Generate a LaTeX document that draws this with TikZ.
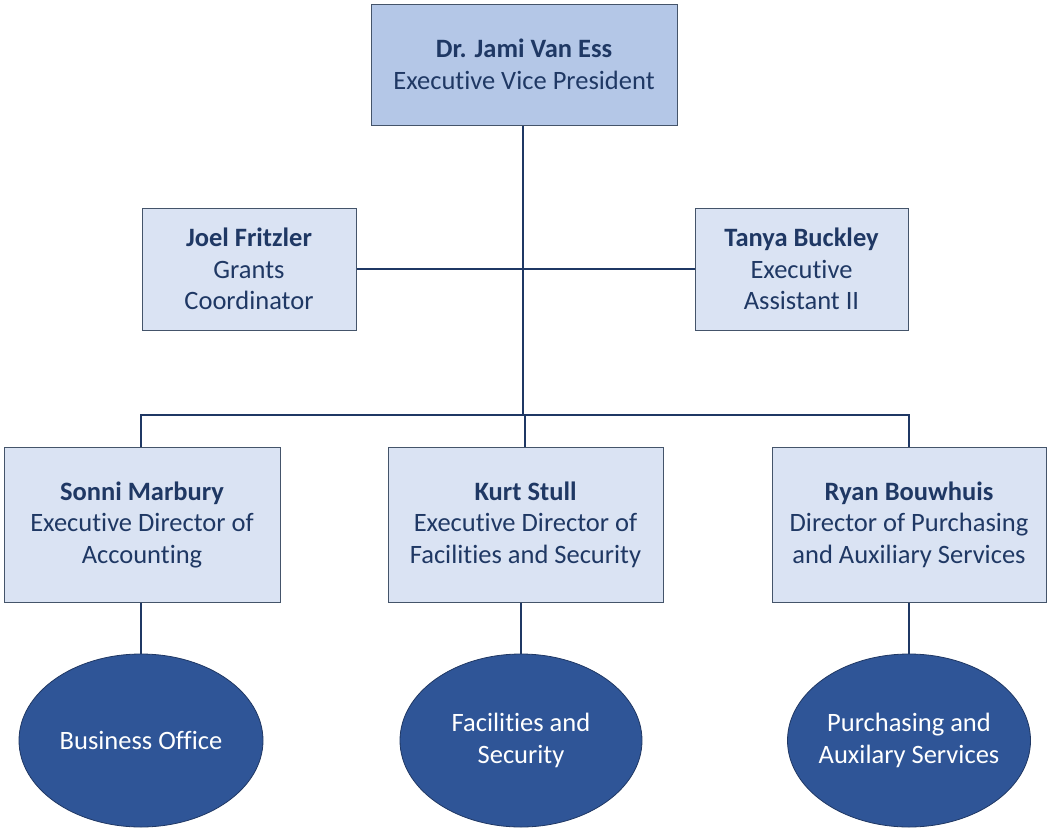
\documentclass[tikz,border=0pt]{standalone}
\usepackage{fontspec}
\setmainfont{Carlito}[Ligatures=NoCommon]
\usetikzlibrary{shapes.geometric}
\definecolor{txt}{HTML}{1F3864}
\definecolor{edge}{HTML}{44546A}
\definecolor{topfill}{HTML}{B4C7E7}
\definecolor{boxfill}{HTML}{DAE3F3}
\definecolor{ovfill}{HTML}{2F5597}
\definecolor{ovedge}{HTML}{203864}
\definecolor{wire}{HTML}{1F3864}
\tikzset{
  box/.style={draw=edge, line width=1pt, fill=boxfill, text=txt, align=center, inner sep=0pt,
    font=\fontsize{26.5}{31.5}\selectfont},
  topbox/.style={box, fill=topfill},
  oval/.style={ellipse, draw=ovedge, line width=0.8pt, fill=ovfill, text=white, align=center, inner sep=-40pt,
    font=\fontsize{26.5}{31.5}\selectfont},
  wire/.style={draw=wire, line width=2pt}
}
\begin{document}
\begin{tikzpicture}[x=1pt,y=-1pt]
\useasboundingbox (0,0) rectangle (1047,830);
\node[topbox, minimum width=306pt, minimum height=121pt] (vp) at (524,64.5) {\textbf{Dr. Jami Van Ess}\\Executive Vice President};
\node[box, minimum width=214pt, minimum height=122pt] (joel) at (249,269) {\textbf{Joel Fritzler}\\Grants\\Coordinator};
\node[box, minimum width=213pt, minimum height=122pt] (tanya) at (801.5,269) {\textbf{Tanya Buckley}\\Executive\\Assistant II};
\node[box, minimum width=276pt, minimum height=155pt] (sonni) at (142,524.5) {\textbf{Sonni Marbury}\\Executive Director of\\Accounting};
\node[box, minimum width=275pt, minimum height=155pt] (kurt) at (525.5,524.5) {\textbf{Kurt Stull}\\Executive Director of\\Facilities and Security};
\node[box, minimum width=274pt, minimum height=155pt] (ryan) at (909,524.5) {\textbf{Ryan Bouwhuis}\\Director of Purchasing\\and Auxiliary Services};
\node[oval, minimum width=244pt, minimum height=173pt] (bo) at (141,740.5) {Business Office};
\node[oval, minimum width=242pt, minimum height=173pt] (fs) at (521,740.5) {Facilities and\\Security};
\node[oval, minimum width=243pt, minimum height=173pt] (pa) at (909,740.5) {Purchasing and\\Auxilary Services};
\coordinate (hub) at (523,269);
\coordinate (bus) at (523,415);
\coordinate (busl) at (141,415);
\coordinate (busr) at (909,415);
\coordinate (busm) at (525,415);
\draw[wire] (vp.south -| hub) -- (bus);
\draw[wire] (joel.east) -- (tanya.west);
\draw[wire] (sonni.north -| busl) -- (busl) -- (busr) -- (ryan.north -| busr);
\draw[wire] (busm) -- (kurt.north -| busm);
\draw[wire] (sonni.south -| bo.north) -- (bo.north);
\draw[wire] (kurt.south -| fs.north) -- (fs.north);
\draw[wire] (ryan.south -| pa.north) -- (pa.north);
\end{tikzpicture}
\end{document}
